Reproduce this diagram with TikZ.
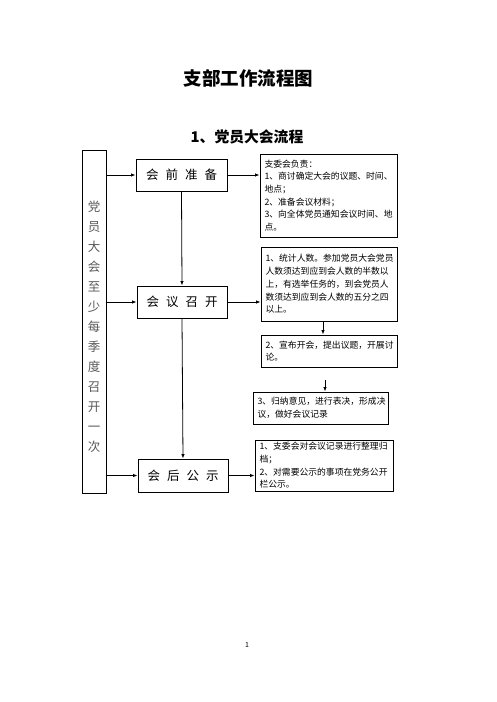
\documentclass[tikz,border=0pt]{standalone}
\usepackage{fontspec}
\setmainfont{Noto Sans CJK SC}
\usetikzlibrary{arrows.meta}
\begin{document}
\begin{tikzpicture}[x=1pt,y=-1pt,
  arr/.style={line width=0.8pt,-{Latex[length=4.5pt,width=3.5pt]}},
  stagebox/.style={draw,line width=0.9pt,minimum width=90pt,minimum height=32pt,inner sep=0pt,
    font=\fontsize{12.5}{14}\selectfont},
  notebox/.style={draw,line width=0.9pt,inner xsep=4.5pt,inner ysep=2pt,align=left,
    font=\fontsize{8.8}{12.7}\selectfont},
  vtext/.style={align=center,text=black!65,font=\fontsize{12.5}{20}\selectfont},
  titletext/.style={font=\fontsize{18.5}{20}\selectfont\bfseries},
  subtext/.style={font=\fontsize{14.8}{16}\selectfont\bfseries}]
\useasboundingbox[fill=white] (0,0) rectangle (496,702);

\node[titletext] (title) at (248.5,78) {支部工作流程图};
\node[subtext] (sub) at (247,137) {1、党员大会流程};

\node[draw,line width=0.9pt,minimum width=24pt,minimum height=343pt,inner sep=0pt,anchor=north west] (L) at (82,150) {};
\node[vtext] (Lt) at (94,327) {党\\员\\大\\会\\至\\少\\每\\季\\度\\召\\开\\一\\次};

\node[stagebox,minimum width=91pt] (S1) at (181.5,175) {会\hspace{7pt}前\hspace{7pt}准\hspace{7pt}备};
\node[stagebox] (S2) at (182,302) {会\hspace{7pt}议\hspace{7pt}召\hspace{7pt}开};
\node[stagebox,minimum height=33pt] (S3) at (183,475.5) {会\hspace{7pt}后\hspace{7pt}公\hspace{7pt}示};

\node[notebox,text width=128pt,minimum height=83pt] (A) at (328.5,195.5) {支委会负责：\\1、商讨确定大会的议题、时间、\\地点；\\2、准备会议材料；\\3、向全体党员通知会议时间、地\\点。};
\node[notebox,text width=127pt,minimum height=74pt] (B) at (329,284) {1、统计人数。参加党员大会党员\\人数须达到应到会人数的半数以\\上，有选举任务的，到会党员人\\数须达到应到会人数的五分之四\\以上。};
\node[notebox,text width=127pt,minimum height=32pt] (C) at (329,351) {2、宣布开会，提出议题，开展讨\\论。};
\node[notebox,text width=126pt,minimum height=32pt] (D) at (320.5,408) {3、归纳意见，进行表决，形成决\\议，做好会议记录};
\node[notebox,text width=129pt,minimum height=51pt] (E) at (324,465.5) {1、支委会对会议记录进行整理归\\档；\\2、对需要公示的事项在党务公开\\栏公示。};

\node[font=\fontsize{7}{8}\selectfont] (pg) at (247,645) {1};

\draw[arr] (L.east |- S1.west) -- (S1.west);
\draw[arr] (L.east |- S2.west) -- (S2.west);
\draw[arr] (L.east |- S3.west) -- (S3.west);
\draw[arr] (S1.south) -- (S2.north);
\draw[arr] (S2.south) -- (S3.north);
\draw[arr] (S1.east) -- (S1.east -| A.west);
\draw[arr] (S2.east) -- (S2.east -| B.west);
\draw[arr] (S3.east) -- (S3.east -| E.west);
\draw[arr] ([xshift=-6pt]B.south) -- ([xshift=-6pt]B.south |- C.north);
\coordinate (d0) at (325,380);
\draw[arr] (d0) -- (d0 |- D.north);
\end{tikzpicture}
\end{document}
